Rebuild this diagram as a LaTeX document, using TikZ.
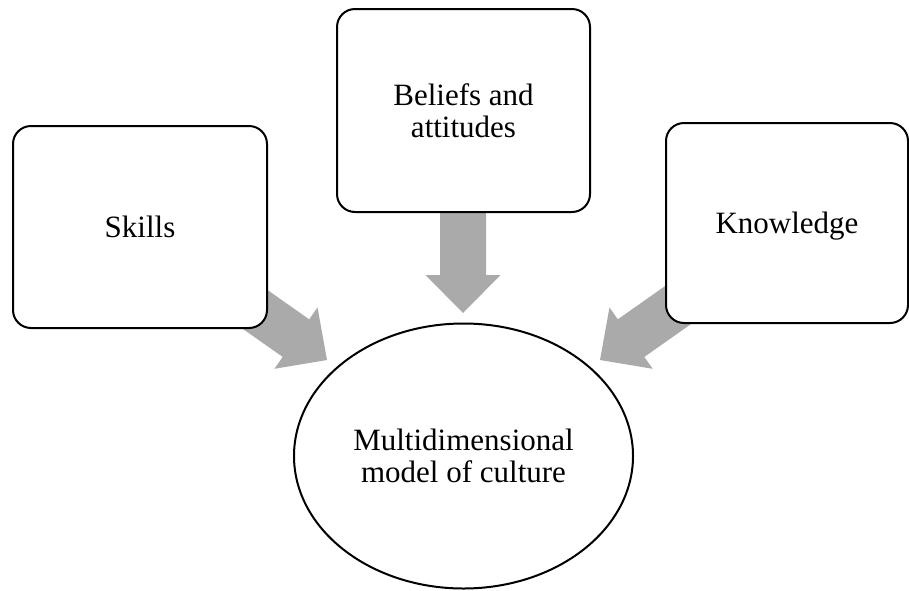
\documentclass[tikz,border=0pt]{standalone}
\usepackage{fontspec}
\setmainfont{Liberation Serif}
\usetikzlibrary{shapes.geometric,calc}
\pgfdeclarelayer{bg}
\pgfsetlayers{bg,main}
\definecolor{arrowgray}{RGB}{170,170,170}
\tikzset{
  box/.style={draw=black, line width=2pt, fill=white, rounded corners=18pt,
    inner sep=0pt, align=center, font=\fontsize{31}{32.5}\selectfont},
  oval/.style={draw=black, line width=2pt, fill=white, ellipse, inner sep=0pt,
    align=center, font=\fontsize{31}{32.5}\selectfont},
  blockarrow/.style={fill=arrowgray, draw=none}
}
\newcommand\fatarrow[2]{%
  \coordinate (#1#2base) at ($(#2)!38pt!(#1)$);
  \fill[blockarrow] ($(#1)!23pt!90:(#2)$) -- ($(#1#2base)!23pt!-90:(#1)$)
    -- ($(#1#2base)!37.5pt!-90:(#1)$) -- (#2)
    -- ($(#1#2base)!37.5pt!90:(#1)$) -- ($(#1#2base)!23pt!90:(#1)$)
    -- ($(#1)!23pt!-90:(#2)$) -- cycle;
}
\begin{document}
\begin{tikzpicture}[x=1pt,y=-1pt]
\useasboundingbox (0,0) rectangle (909,590);
\node[box, minimum width=254pt, minimum height=202pt] (skills) at (140,227) {Skills};
\node[box, minimum width=253pt, minimum height=203pt] (beliefs) at (463.5,110.5) {Beliefs and\\attitudes};
\node[box, minimum width=242pt, minimum height=200pt, text depth=0pt] (knowledge) at (787,223) {Knowledge};
\node[oval, minimum width=339pt, minimum height=265pt] (model) at (463.5,456) {Multidimensional\\model of culture};
\coordinate (ta) at (229,291);
\coordinate (ha) at (327,360);
\coordinate (tb) at (463,205);
\coordinate (hb) at (463,313);
\coordinate (tc) at (698,291);
\coordinate (hc) at (600,360);
\begin{pgfonlayer}{bg}
\fatarrow{ta}{ha}
\fatarrow{tb}{hb}
\fatarrow{tc}{hc}
\end{pgfonlayer}
\end{tikzpicture}
\end{document}
